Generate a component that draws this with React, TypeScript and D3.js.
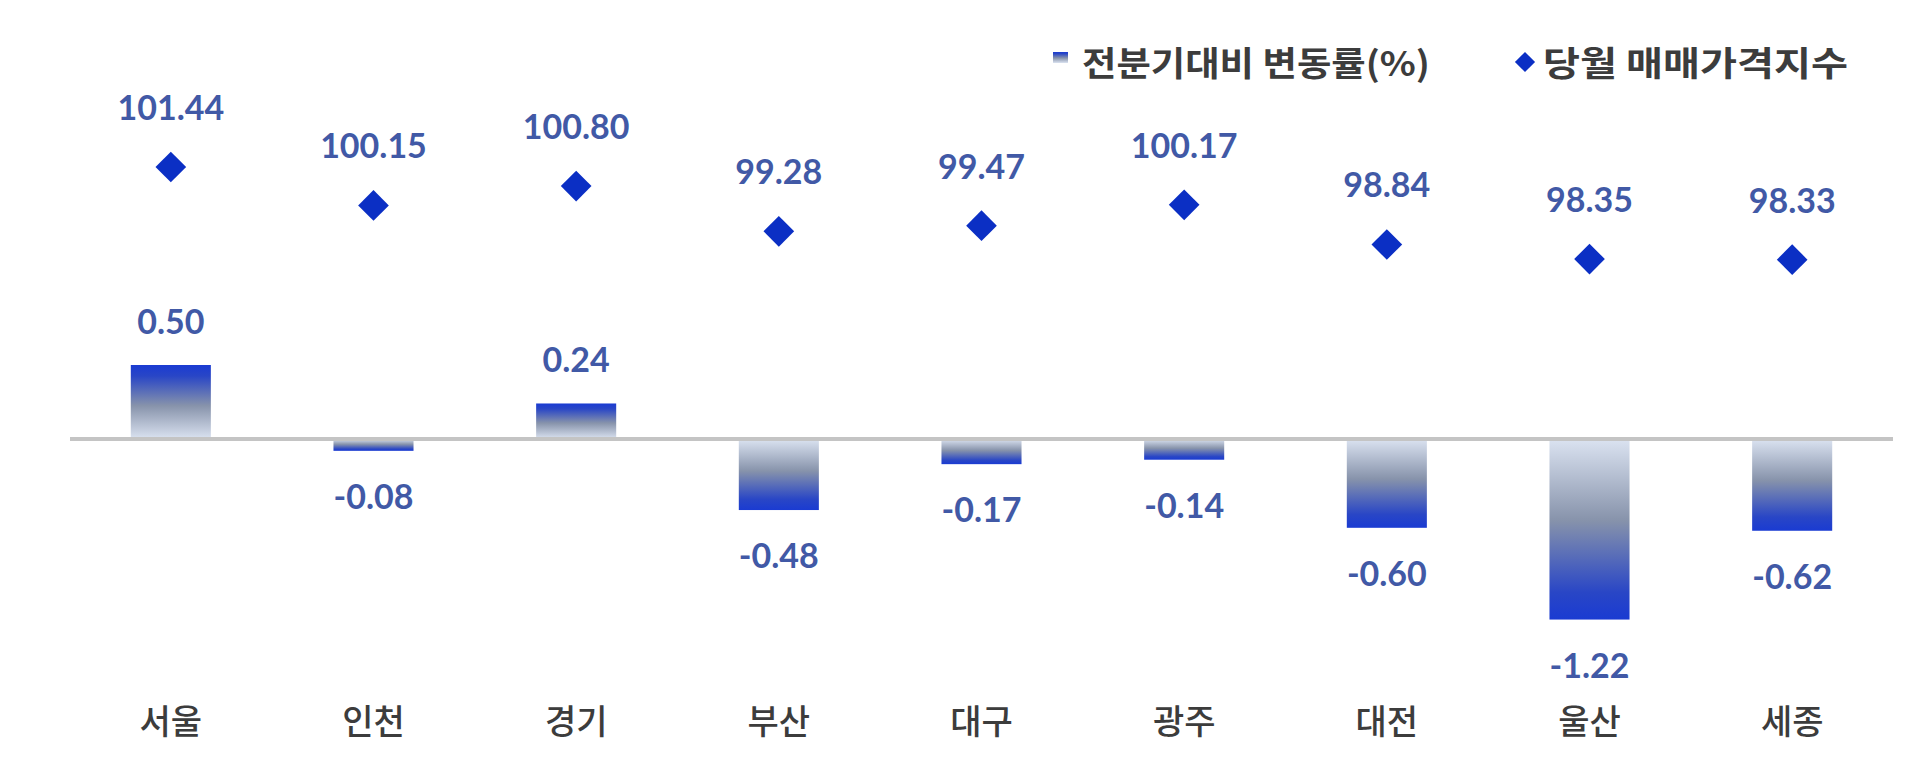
import React, { useEffect, useRef } from 'react';
import * as d3 from 'd3';

const regions = ['서울', '인천', '경기', '부산', '대구', '광주', '대전', '울산', '세종'];
const changeRates = [0.5, -0.08, 0.24, -0.48, -0.17, -0.14, -0.6, -1.22, -0.62];
const priceIndex = [101.44, 100.15, 100.8, 99.28, 99.47, 100.17, 98.84, 98.35, 98.33];
const legendLabels = ['전분기대비 변동률(%)', '당월 매매가격지수'];

const WIDTH = 1920;
const HEIGHT = 764;
const LABEL_COLOR = '#4159a6';
const MARK_COLOR = '#0b2fc4';

const App: React.FC = () => {
  const svgRef = useRef<SVGSVGElement>(null);

  useEffect(() => {
    if (!svgRef.current) return;
    const svg = d3.select(svgRef.current);
    svg.selectAll('*').remove();

    const x = d3.scaleBand<string>()
      .domain(regions)
      .range([70, 1893])
      .paddingInner(0.605)
      .paddingOuter(0.3);

    // primary axis: change rate (%)
    const y = d3.scaleLinear().domain([-1.5, 1]).range([661, 291]);
    // secondary axis: price index
    const y2 = d3.scaleLinear().domain([98, 102]).range([269.5, 150.3]);

    const defs = svg.append('defs');
    const makeGrad = (id: string, darkAtTop: boolean) => {
      const stops = [
        { o: 0, c: '#1a3bd2' },
        { o: 0.15, c: '#2946c6' },
        { o: 0.55, c: '#8793ab' },
        { o: 1, c: '#dbe3f1' },
      ];
      const g = defs.append('linearGradient')
        .attr('id', id)
        .attr('x1', 0).attr('x2', 0)
        .attr('y1', darkAtTop ? 0 : 1)
        .attr('y2', darkAtTop ? 1 : 0);
      stops.forEach(s => g.append('stop').attr('offset', s.o).attr('stop-color', s.c));
    };
    makeGrad('gradPos', true);
    makeGrad('gradNeg', false);

    const cx = (r: string) => (x(r) ?? 0) + x.bandwidth() / 2;

    // bars
    svg.append('g')
      .selectAll('rect')
      .data(regions)
      .enter()
      .append('rect')
      .attr('x', d => x(d) ?? 0)
      .attr('width', x.bandwidth())
      .attr('y', (d, i) => Math.min(y(changeRates[i]), y(0)))
      .attr('height', (d, i) => Math.abs(y(changeRates[i]) - y(0)))
      .attr('fill', (d, i) => (changeRates[i] >= 0 ? 'url(#gradPos)' : 'url(#gradNeg)'));

    // zero line
    svg.append('line')
      .attr('x1', 70).attr('x2', 1893)
      .attr('y1', y(0)).attr('y2', y(0))
      .attr('stroke', '#c4c4c4')
      .attr('stroke-width', 4);

    // bar labels
    svg.append('g')
      .selectAll('text')
      .data(regions)
      .enter()
      .append('text')
      .attr('x', d => cx(d))
      .attr('y', (d, i) => (changeRates[i] >= 0 ? y(changeRates[i]) - 31 : y(changeRates[i]) + 58))
      .attr('text-anchor', 'middle')
      .attr('font-family', 'Lato, "Noto Sans", sans-serif')
      .attr('font-weight', 700)
      .attr('font-size', 34)
      .attr('fill', LABEL_COLOR)
      .text((d, i) => changeRates[i].toFixed(2));

    // diamonds
    const diamond = d3.symbol().type(d3.symbolDiamond2).size(600);
    svg.append('g')
      .selectAll('path')
      .data(regions)
      .enter()
      .append('path')
      .attr('d', diamond)
      .attr('transform', (d, i) => `translate(${cx(d)},${y2(priceIndex[i])})`)
      .attr('fill', MARK_COLOR);

    svg.append('g')
      .selectAll('text')
      .data(regions)
      .enter()
      .append('text')
      .attr('x', d => cx(d))
      .attr('y', (d, i) => y2(priceIndex[i]) - 47)
      .attr('text-anchor', 'middle')
      .attr('font-family', 'Lato, "Noto Sans", sans-serif')
      .attr('font-weight', 700)
      .attr('font-size', 34)
      .attr('fill', LABEL_COLOR)
      .text((d, i) => priceIndex[i].toFixed(2));

    // category labels
    svg.append('g')
      .selectAll('text')
      .data(regions)
      .enter()
      .append('text')
      .attr('x', d => cx(d))
      .attr('y', 734)
      .attr('text-anchor', 'middle')
      .attr('font-family', '"Noto Sans CJK KR", sans-serif')
      .attr('font-weight', 500)
      .attr('font-size', 34)
      .attr('fill', '#3c3c3c')
      .text(d => d);

    // legend
    const legend = svg.append('g')
      .attr('font-family', '"Noto Sans CJK KR", sans-serif')
      .attr('font-weight', 700)
      .attr('font-size', 34)
      .attr('fill', '#3c3c3c');
    legend.append('rect')
      .attr('x', 1053).attr('y', 52)
      .attr('width', 15).attr('height', 11)
      .attr('fill', 'url(#gradPos)');
    legend.append('text')
      .attr('x', 1082).attr('y', 76)
      .attr('textLength', 348)
      .attr('lengthAdjust', 'spacingAndGlyphs')
      .text(legendLabels[0]);
    legend.append('path')
      .attr('d', d3.symbol().type(d3.symbolDiamond2).size(260))
      .attr('transform', 'translate(1525,62)')
      .attr('fill', MARK_COLOR);
    legend.append('text')
      .attr('x', 1543).attr('y', 76)
      .attr('textLength', 305)
      .attr('lengthAdjust', 'spacingAndGlyphs')
      .text(legendLabels[1]);
  }, []);

  return (
    <div style={{ position: 'absolute', left: 0, top: 0, width: WIDTH, height: HEIGHT, background: '#ffffff' }}>
      <svg ref={svgRef} width={WIDTH} height={HEIGHT} />
    </div>
  );
};

export default App;
